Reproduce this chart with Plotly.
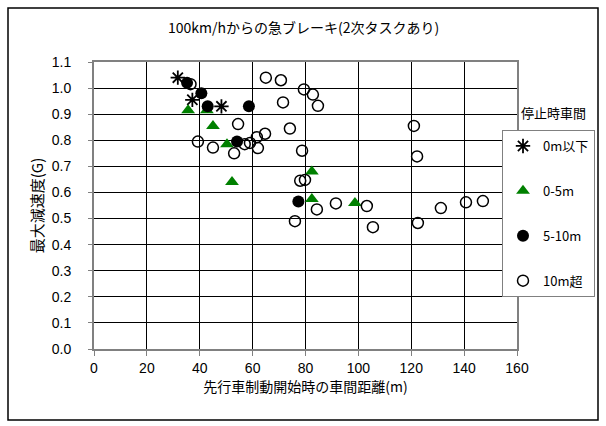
import plotly.graph_objects as go

# 0m以下
x_star = [31.7, 37.2, 48.2]
y_star = [1.04, 0.955, 0.93]
# 0-5m
x_tri = [35.6, 42.7, 45.0, 50.3, 52.2, 82.4, 82.4, 98.7]
y_tri = [0.915, 0.915, 0.855, 0.785, 0.64, 0.68, 0.575, 0.56]
# 5-10m
x_fill = [35.2, 40.6, 43.0, 58.6, 54.1, 77.3]
y_fill = [1.02, 0.98, 0.93, 0.93, 0.795, 0.565]
# 10m超
x_open = [36.5, 39.3, 45.0, 53.0, 54.5, 57.0, 59.0, 61.6, 62.0, 64.7,
          65.0, 70.7, 71.5, 74.1, 78.7, 79.4, 82.8, 84.7, 78.0, 79.8,
          84.3, 91.5, 76.0, 103.2, 105.5, 122.5, 131.2, 140.7, 147.1,
          121.0, 122.2]
y_open = [1.015, 0.795, 0.772, 0.75, 0.862, 0.785, 0.79, 0.812, 0.77, 0.825,
          1.04, 1.03, 0.945, 0.845, 0.76, 0.995, 0.975, 0.932, 0.645, 0.648,
          0.535, 0.558, 0.49, 0.548, 0.467, 0.483, 0.54, 0.562, 0.567,
          0.855, 0.738]

x_ticks = [0, 20, 40, 60, 80, 100, 120, 140, 160]
y_ticks = [0.0, 0.1, 0.2, 0.3, 0.4, 0.5, 0.6, 0.7, 0.8, 0.9, 1.0, 1.1]

title_text = "100km/hからの急ブレーキ(2次タスクあり)"
x_title = "先行車制動開始時の車間距離(m)"
y_title = "最大減速度(G)"
legend_title = "停止時車間"
names = ["0m以下", "0-5m", "5-10m", "10m超"]

JP = "Noto Sans CJK JP"
LAT = "Liberation Sans"

L, R, T, B = 94, 517, 62, 349
PW, PH = R - L, B - T


def px(xp):
    return (xp - L) / PW


def py(yp):
    return (B - yp) / PH


fig = go.Figure()
fig.add_trace(go.Scatter(x=x_star, y=y_star, mode="markers", name=names[0], legendgroup="a",
                         marker=dict(symbol="asterisk-open", size=12, color="black",
                                     line=dict(width=1.8, color="black"))))
fig.add_trace(go.Scatter(x=x_tri, y=y_tri, mode="markers", name=names[1], legendgroup="b",
                         marker=dict(symbol="triangle-up", size=12, color="#008000",
                                     line=dict(width=0))))
fig.add_trace(go.Scatter(x=x_fill, y=y_fill, mode="markers", name=names[2], legendgroup="c",
                         marker=dict(symbol="circle", size=12, color="black",
                                     line=dict(width=0))))
fig.add_trace(go.Scatter(x=x_open, y=y_open, mode="markers", name=names[3], legendgroup="d",
                         marker=dict(symbol="circle-open", size=11, color="black",
                                     line=dict(width=1.5, color="black"))))

fig.update_layout(
    width=606, height=426,
    margin=dict(l=L, r=606 - R, t=T, b=426 - B, autoexpand=False),
    paper_bgcolor="white", plot_bgcolor="white",
    font=dict(family=JP, size=13, color="black"),
    showlegend=True,
    legend=dict(x=px(502), y=py(130), xanchor="left", yanchor="top",
                xref="paper", yref="paper",
                bordercolor="#808080", borderwidth=1, bgcolor="white",
                font=dict(family=JP, size=13), tracegroupgap=25,
                itemwidth=30),
)
fig.update_xaxes(range=[0, 160], tickvals=x_ticks, showgrid=True, gridcolor="#000000",
                 gridwidth=1, zeroline=False, showline=True, linecolor="#808080",
                 linewidth=2, mirror=True, ticks="outside", ticklen=5, tickcolor="#808080",
                 tickfont=dict(family=LAT, size=14, color="black"),
                 title=dict(text=x_title, font=dict(family=JP, size=14, color="black"), standoff=2))
fig.update_yaxes(range=[0, 1.1], tickvals=y_ticks, tickformat=".1f", showgrid=True,
                 gridcolor="#000000", gridwidth=1, zeroline=False, showline=True,
                 linecolor="#808080", linewidth=2, mirror=True, ticks="outside",
                 ticklen=4, tickcolor="#808080", ticklabelstandoff=14,
                 tickfont=dict(family=LAT, size=14, color="black"),
                 title=dict(text=y_title, font=dict(family=JP, size=15, color="black"), standoff=4))

# outer chart border
fig.add_shape(type="rect", xref="paper", yref="paper",
              x0=px(8), x1=px(598), y0=py(420), y1=py(8),
              line=dict(color="black", width=1.5), fillcolor="rgba(0,0,0,0)", layer="above")
fig.add_annotation(text=title_text, xref="paper", yref="paper",
                   x=px(303), y=py(27), showarrow=False,
                   font=dict(family=JP, size=14), xanchor="center", yanchor="middle")
fig.add_annotation(text=legend_title, xref="paper", yref="paper",
                   x=px(553), y=py(112), showarrow=False,
                   font=dict(family=JP, size=13), xanchor="center", yanchor="middle",
                   bgcolor="white")

fig.write_html("out.html", config={"displayModeBar": False},
               post_script="document.body.style.margin='0px';document.body.style.overflow='hidden';")
